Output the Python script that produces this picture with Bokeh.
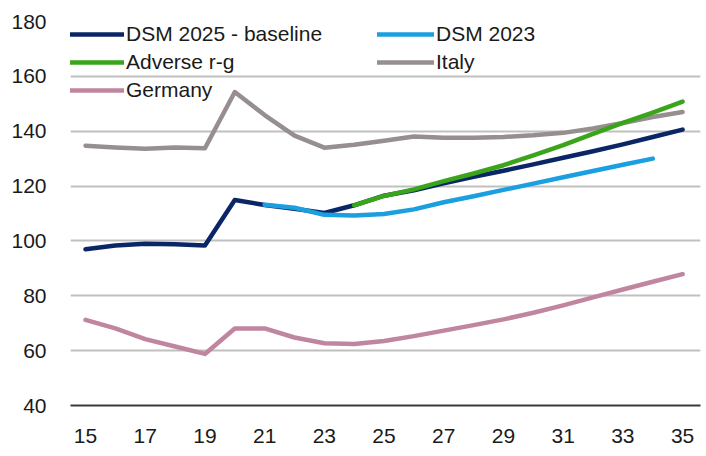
from bokeh.plotting import figure
from bokeh.models import Range1d, FixedTicker, Legend, LegendItem
from bokeh.embed import file_html
from bokeh.resources import INLINE

years = list(range(15, 36))
dsm2025 = [97.0, 98.3, 99.0, 98.8, 98.3, 114.9, 113.1, 111.7, 110.2, 113.0, 116.5, 118.5, 121.0,
           123.4, 125.6, 127.9, 130.3, 132.7, 135.2, 137.9, 140.6]
dsm2023_years = list(range(21, 35))
dsm2023 = [113.2, 112.1, 109.5, 109.3, 109.8, 111.5, 114.1, 116.3, 118.6, 120.9, 123.2, 125.5, 127.8, 130.0]
adverse_years = list(range(24, 36))
adverse = [113.0, 116.4, 118.8, 121.8, 124.6, 127.6, 131.2, 134.9, 139.0, 143.0, 146.8, 150.8]
italy = [134.7, 134.1, 133.6, 134.1, 133.8, 154.3, 145.9, 138.4, 134.0, 135.1, 136.5, 138.1, 137.6,
         137.6, 137.9, 138.5, 139.4, 141.0, 143.0, 145.2, 147.0]
germany = [71.2, 68.1, 64.2, 61.5, 58.8, 68.1, 68.1, 64.8, 62.7, 62.4, 63.5, 65.3, 67.3, 69.3, 71.4,
           73.8, 76.5, 79.4, 82.3, 85.1, 87.9]
x_ticks = list(range(15, 36, 2))
y_ticks = list(range(40, 181, 20))

NAVY = "#0b2667"
LBLUE = "#1aa0e0"
GREEN = "#3aa41a"
GRAY = "#968e8f"
PINK = "#c0869f"
FONT = "'Liberation Sans', Arial, sans-serif"

p = figure(width=706, height=456, output_backend="svg", toolbar_location=None,
           x_range=Range1d(14.497, 35.6), y_range=Range1d(40, 180),
           min_border_left=70, min_border_right=6, min_border_top=21, min_border_bottom=51)
p.outline_line_color = None
p.background_fill_color = "white"
p.xgrid.grid_line_color = None
p.ygrid.grid_line_color = "#c0c0c0"
p.ygrid.grid_line_width = 2

p.xaxis.ticker = FixedTicker(ticks=x_ticks)
p.yaxis.ticker = FixedTicker(ticks=y_ticks)
for ax in (p.xaxis, p.yaxis):
    ax.major_tick_line_color = None
    ax.minor_tick_line_color = None
    ax.major_tick_out = 0
    ax.major_tick_in = 0
    ax.minor_tick_out = 0
    ax.minor_tick_in = 0
    ax.major_label_text_font = FONT
    ax.major_label_text_font_size = "21px"
    ax.major_label_text_color = "#1a1a1a"
p.yaxis.axis_line_color = None
p.yaxis.major_label_standoff = 24
p.xaxis.axis_line_color = "#3a3a3a"
p.xaxis.axis_line_width = 2
p.xaxis.major_label_standoff = 23

lw = 4.5
r_it = p.line(years, italy, line_color=GRAY, line_width=lw, line_cap="round", line_join="round")
r_de = p.line(years, germany, line_color=PINK, line_width=lw, line_cap="round", line_join="round")
r_b = p.line(years, dsm2025, line_color=NAVY, line_width=lw, line_cap="round", line_join="round")
r_23 = p.line(dsm2023_years, dsm2023, line_color=LBLUE, line_width=lw, line_cap="round", line_join="round")
r_adv = p.line(adverse_years, adverse, line_color=GREEN, line_width=lw, line_cap="round", line_join="round")

def mk_legend(items, loc):
    lg = Legend(items=items, location=loc, orientation="vertical")
    lg.background_fill_alpha = 0
    lg.border_line_color = None
    lg.padding = 0
    lg.margin = 0
    lg.spacing = 4
    lg.glyph_width = 57
    lg.glyph_height = 22
    lg.label_height = 22
    lg.label_standoff = 2
    lg.label_text_font = FONT
    lg.label_text_font_size = "21px"
    lg.label_text_color = "#1a1a1a"
    return lg

leg1 = mk_legend([LegendItem(label="DSM 2025 - baseline", renderers=[r_b]),
                  LegendItem(label="Adverse r-g", renderers=[r_adv]),
                  LegendItem(label="Germany", renderers=[r_de])], (-3, 303))
leg2 = mk_legend([LegendItem(label="DSM 2023", renderers=[r_23]),
                  LegendItem(label="Italy", renderers=[r_it])], (307, 331))
p.add_layout(leg1, "center")
p.add_layout(leg2, "center")

open("out.html", "w").write(file_html(p, INLINE))
